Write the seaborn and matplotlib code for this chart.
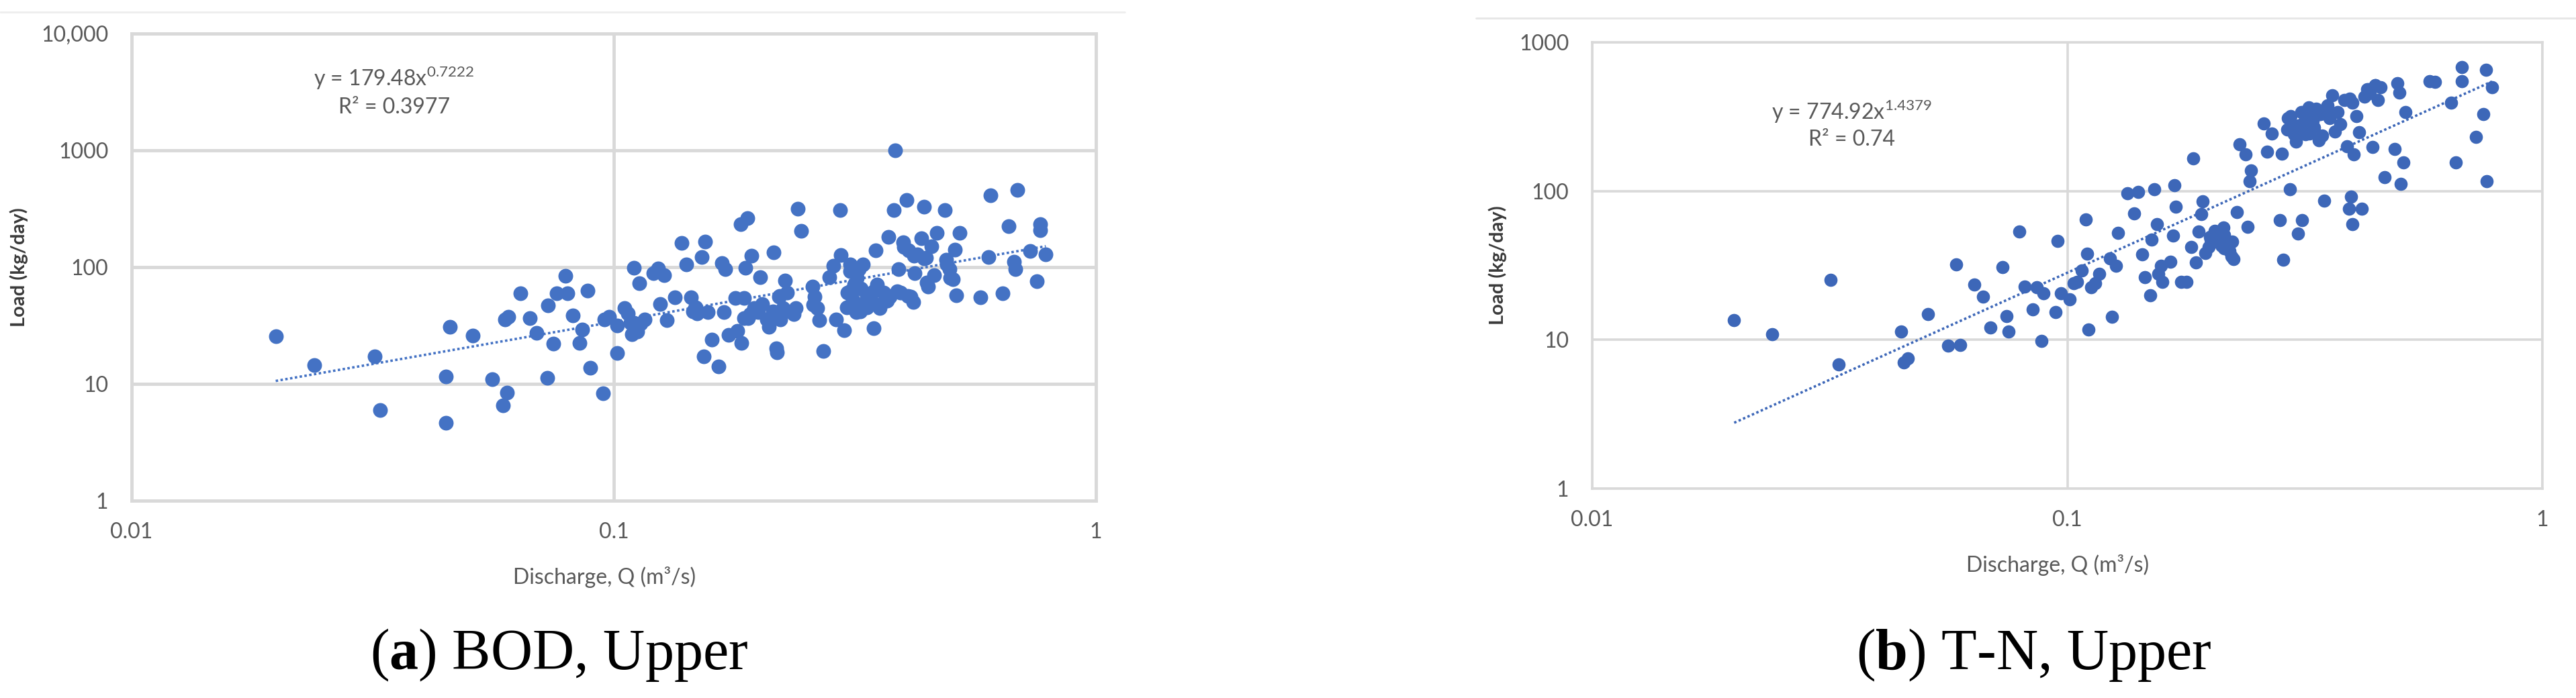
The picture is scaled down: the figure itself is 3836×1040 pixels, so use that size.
import matplotlib
matplotlib.use("Agg")
import matplotlib.pyplot as plt
import seaborn as sns
import pandas as pd
from matplotlib.lines import Line2D

# ------------------------------------------------------------------
# data (log-log)
# ------------------------------------------------------------------
bod_q = [0.0199, 0.0239, 0.0319, 0.0328, 0.0449, 0.0449, 0.0458, 0.0510, 0.0560, 0.0589,
         0.0601, 0.0594, 0.0604, 0.0641, 0.0670, 0.0692, 0.0731, 0.0729, 0.0750, 0.0762,
         0.0793, 0.0802, 0.0822, 0.0849, 0.0859, 0.0883, 0.0894, 0.0949, 0.0957, 0.0977,
         0.1017, 0.1017, 0.1054, 0.1071, 0.1084, 0.1092, 0.1101, 0.1128, 0.1137, 0.1159,
         0.1207, 0.1236, 0.1271, 0.1247, 0.1288, 0.1340, 0.1383, 0.1412, 0.1445, 0.1475,
         0.1486, 0.1523, 0.1548, 0.1535, 0.1566, 0.1597, 0.1650, 0.1675, 0.1703, 0.1690,
         0.1730, 0.1787, 0.1803, 0.1832, 0.1862, 0.1892, 0.1837, 0.1875, 0.1897, 0.1928,
         0.1952, 0.1991, 0.2015, 0.2032, 0.2075, 0.2099, 0.2148, 0.2173, 0.2181, 0.2203,
         0.2218, 0.2244, 0.2264, 0.2291, 0.2338, 0.2385, 0.2404, 0.2443, 0.2585, 0.2606,
         0.2646, 0.2667, 0.2722, 0.2799, 0.2856, 0.2889, 0.2951, 0.2958, 0.3007, 0.3055,
         0.3090, 0.3133, 0.3155, 0.3184, 0.3221, 0.3258, 0.3289, 0.3311, 0.3350, 0.3420,
         0.3460, 0.3492, 0.3516, 0.3556, 0.3631, 0.3707, 0.3734, 0.3810, 0.3828, 0.3890,
         0.3936, 0.3981, 0.4046, 0.4093, 0.4130, 0.4178, 0.4207, 0.4266, 0.4345, 0.4395,
         0.4436, 0.4487, 0.4560, 0.4613, 0.4677, 0.4864, 0.4898, 0.4966, 0.5047, 0.5105,
         0.5140, 0.5212, 0.5754, 0.5984, 0.6039, 0.6412, 0.6592, 0.6761, 0.6808, 0.6871,
         0.7311, 0.7534, 0.7674, 0.7674, 0.7870,
         0.309, 0.319, 0.309, 0.319, 0.304, 0.324, 0.346, 0.357, 0.369, 0.387,
         0.407, 0.400, 0.420, 0.440, 0.446, 0.491, 0.499, 0.221, 0.214, 0.192,
         0.186, 0.148, 0.146, 0.110, 0.112, 0.236, 0.259, 0.335]
bod_load = [25.6, 14.5, 17.3, 5.97, 11.6, 4.64, 31.0, 25.9, 11.0, 6.58,
            8.39, 35.6, 37.8, 59.7, 36.4, 27.5, 47.1, 11.3, 22.2, 59.7,
            84.0, 59.7, 38.4, 22.5, 29.4, 62.9, 13.8, 8.27, 35.6, 37.8,
            18.4, 31.7, 44.7, 39.9, 33.5, 26.7, 99.3, 72.7, 33.0, 35.6,
            88.5, 97.0, 85.3, 48.2, 35.1, 55.3, 160, 106, 55.3, 44.7,
            39.9, 122, 165, 17.3, 41.4, 24.0, 14.1, 108, 95.5, 41.4,
            26.3, 54.1, 28.3, 232, 54.1, 264, 22.5, 99.3, 36.4, 125,
            44.7, 41.4, 82.0, 48.2, 35.6, 31.0, 133, 20.1, 18.7, 56.1,
            35.6, 44.7, 77.2, 60.5, 41.4, 44.7, 315, 204, 67.9, 56.1,
            44.7, 35.1, 19.1, 82.0, 103, 35.6, 310, 127, 28.8, 60.5,
            92.0, 52.0, 70.5, 41.4, 95.5, 65.3, 106, 47.5, 56.1, 52.0,
            30.1, 140, 70.5, 44.7, 60.5, 182, 56.1, 310, 1000, 95.5,
            60.5, 163, 375, 140, 56.1, 50.1, 88.5, 129, 176, 327,
            120, 67.9, 151, 85.3, 197, 310, 116, 95.5, 79.0, 142,
            57.0, 197, 55.3, 122, 411, 59.7, 224, 111, 95.5, 460,
            138, 76.1, 207, 232, 129,
            105, 81, 62, 47.7, 45, 41.8, 62, 47.7, 51.6, 62,
            56.6, 149, 125, 119, 73.8, 105, 81, 56.6, 41.8, 39.7,
            36.6, 45, 41.8, 33.3, 28, 39.7, 47.7, 45]

tn_q = [0.0199, 0.0239, 0.0318, 0.0330, 0.0447, 0.0452, 0.0461, 0.0509, 0.0561, 0.0583,
        0.0595, 0.0638, 0.0664, 0.0690, 0.0730, 0.0744, 0.0753, 0.0792, 0.0814, 0.0847,
        0.0863, 0.0881, 0.0891, 0.0944, 0.0955, 0.0971, 0.1010, 0.1030, 0.1050, 0.1071,
        0.1092, 0.1101, 0.1109, 0.1122, 0.1145, 0.1167, 0.1228, 0.1242, 0.1268, 0.1278,
        0.1339, 0.1381, 0.1409, 0.1437, 0.1455, 0.1494, 0.1506, 0.1524, 0.1542, 0.1553,
        0.1574, 0.1585, 0.1648, 0.1667, 0.1682, 0.1694, 0.1734, 0.1782, 0.1820, 0.1841,
        0.1867, 0.1892, 0.1914, 0.1928, 0.1950, 0.1982, 0.2004, 0.2046, 0.2061, 0.2085,
        0.2109, 0.2128, 0.2153, 0.2193, 0.2213, 0.2239, 0.2275, 0.2301, 0.2372, 0.2393,
        0.2420, 0.2438, 0.2588, 0.2636, 0.2692, 0.2799, 0.2831, 0.2851, 0.2911, 0.2944,
        0.3000, 0.3027, 0.3062, 0.3119, 0.3148, 0.3206, 0.3236, 0.3273, 0.3311, 0.3334,
        0.3381, 0.3404, 0.3443, 0.3467, 0.3516, 0.3565, 0.3606, 0.3656, 0.3707, 0.3750,
        0.3828, 0.3873, 0.3917, 0.3954, 0.3981, 0.3981, 0.4009, 0.4064, 0.4111, 0.4169,
        0.4227, 0.4276, 0.4335, 0.4395, 0.4446, 0.4508, 0.4571, 0.4656, 0.4887, 0.4943,
        0.5000, 0.5035, 0.5093, 0.5140, 0.5781, 0.5943, 0.6427, 0.6577, 0.6761, 0.6761,
        0.7244, 0.7516, 0.7603, 0.7638, 0.7834,
        0.295, 0.311, 0.306, 0.322, 0.329, 0.317, 0.340, 0.353, 0.290, 0.300,
        0.393, 0.430, 0.445, 0.214, 0.206, 0.222, 0.214, 0.200]
tn_load = [13.6, 10.9, 25.4, 6.85, 11.4, 7.05, 7.48, 14.9, 9.12, 32.2,
           9.23, 23.6, 19.6, 12.1, 30.7, 14.4, 11.4, 53.4, 22.9, 16.0,
           22.5, 9.79, 20.6, 15.3, 46.0, 20.6, 18.8, 23.9, 24.6, 29.4,
           64.6, 38.0, 11.7, 22.5, 23.9, 27.7, 35.2, 14.3, 31.3, 52.1,
           96.9, 70.7, 98.6, 37.4, 26.5, 20.0, 47.4, 103, 60.2, 27.7,
           31.3, 24.6, 33.6, 50.3, 109, 78.7, 24.6, 24.6, 42.1, 166,
           33.2, 53.4, 69.8, 85.0, 38.5, 42.1, 47.4, 54.1, 47.4, 50.3,
           42.9, 56.7, 44.7, 39.6, 36.3, 34.8, 71.9, 207, 176, 57.4,
           116, 138, 286, 184, 244, 63.8, 178, 34.6, 310, 103,
           267, 216, 51.8, 63.8, 292, 348, 244, 319, 267, 359,
           220, 328, 237, 86.0, 370, 310, 442, 251, 338, 283,
           409, 200, 76.4, 91.3, 60.2, 393, 176, 319, 248, 76.4,
           430, 484, 456, 198, 513, 409, 498, 124, 192, 529,
           461, 112, 156, 338, 545, 540, 393, 156, 683, 545,
           230, 328, 651, 116, 498,
           319, 340, 276, 365, 297, 241, 329, 377, 259, 241,
           418, 483, 515, 50.7, 45.7, 45.7, 41.2, 49.2]

# trend line end points (power fit drawn by Excel)
bod_trend_q = [0.0199, 0.787]
bod_trend_load = [10.6, 151]
tn_trend_q = [0.0199, 0.783]
tn_trend_load = [2.77, 545]

x_ticks = [0.01, 0.1, 1]
x_labels = ["0.01", "0.1", "1"]
bod_y_ticks = [1, 10, 100, 1000, 10000]
bod_y_labels = ["1", "10", "100", "1000", "10,000"]
tn_y_ticks = [1, 10, 100, 1000]
tn_y_labels = ["1", "10", "100", "1000"]

bod_eq = r"y = 179.48x$^{\mathrm{0.7222}}$"
bod_r2 = "R² = 0.3977"
tn_eq = r"y = 774.92x$^{\mathrm{1.4379}}$"
tn_r2 = "R² = 0.74"

captions = [r"($\mathbf{a}$) BOD, Upper", r"($\mathbf{b}$) T-N, Upper"]

# ------------------------------------------------------------------
sns.set_theme(style="white")
plt.rcParams["font.family"] = ["Lato", "DejaVu Sans"]
plt.rcParams["mathtext.fontset"] = "custom"
plt.rcParams["mathtext.rm"] = "Lato"
plt.rcParams["mathtext.bf"] = "Liberation Serif:bold"

GRID = "#D9D9D9"
TXT = "#595959"

fig = plt.figure(figsize=(38.37, 10.40), dpi=100)
ax1 = fig.add_axes([0.05108, 0.28269, 0.37425, 0.66923])
ax2 = fig.add_axes([0.61793, 0.30000, 0.36878, 0.63942])


def draw_panel(ax, q, load, tq, tload, yticks, ylabels, eq, r2, color, size,
               eq_xy, r2_y, ylab_x, xlab_y, grid_lw):
    df = pd.DataFrame({"Q": q, "Load": load})
    ax.set_xscale("log")
    ax.set_yscale("log")
    sns.scatterplot(data=df, x="Q", y="Load", ax=ax, color=color, s=size,
                    linewidth=0, zorder=3)
    sns.lineplot(x=tq, y=tload, ax=ax, color=color, linestyle=(0, (1, 1)),
                 linewidth=2.6, zorder=4)
    ax.set_xlim(0.01, 1)
    ax.set_ylim(yticks[0], yticks[-1])
    ax.set_xticks(x_ticks, x_labels)
    ax.set_yticks(yticks, ylabels)
    ax.minorticks_off()
    ax.tick_params(length=0, labelsize=23, labelcolor=TXT)
    ax.tick_params(axis="x", pad=23)
    ax.tick_params(axis="y", pad=25)
    ax.grid(True, color=GRID, linewidth=grid_lw, zorder=0)
    ax.set_axisbelow(True)
    for sp in ax.spines.values():
        sp.set_color(GRID)
        sp.set_linewidth(grid_lw)
    ax.set_ylabel("Load (kg/day)", fontsize=21, fontweight="bold", color="#3A3A3A")
    ax.yaxis.set_label_coords(ylab_x, 0.5)
    ax.set_xlabel("Discharge, Q (m³/s)", fontsize=23, color=TXT)
    ax.xaxis.set_label_coords(0.49, xlab_y)
    ax.xaxis.label.set_va("center")
    ax.text(eq_xy[0], eq_xy[1], eq, transform=ax.transAxes, ha="center",
            va="center", fontsize=23, color=TXT)
    ax.text(eq_xy[0], r2_y, r2, transform=ax.transAxes, ha="center",
            va="center", fontsize=23, color=TXT)


draw_panel(ax1, bod_q, bod_load, bod_trend_q, bod_trend_load, bod_y_ticks,
           bod_y_labels, bod_eq, bod_r2, "#4472C4", 250,
           (0.272, 0.905), 0.842, -0.107, -0.164, 3.5)
draw_panel(ax2, tn_q, tn_load, tn_trend_q, tn_trend_load, tn_y_ticks,
           tn_y_labels, tn_eq, tn_r2, "#3D67B8", 200,
           (0.273, 0.844), 0.782, -0.090, -0.171, 2.6)

# faint frame edges of the original chart images
fig.add_artist(Line2D([0, 1675 / 3837], [1 - 18 / 1040] * 2, color="#EEEEEE", lw=2))
fig.add_artist(Line2D([2198 / 3837, 1], [1 - 27 / 1040] * 2, color="#E6E6E6", lw=2))

fig.text(0.2171, 0.0413, captions[0], ha="center", va="baseline",
         family="Liberation Serif", fontsize=62, color="black")
fig.text(0.7894, 0.0413, captions[1], ha="center", va="baseline",
         family="Liberation Serif", fontsize=62, color="black")

fig.savefig("out.png", dpi=100, facecolor="white")
